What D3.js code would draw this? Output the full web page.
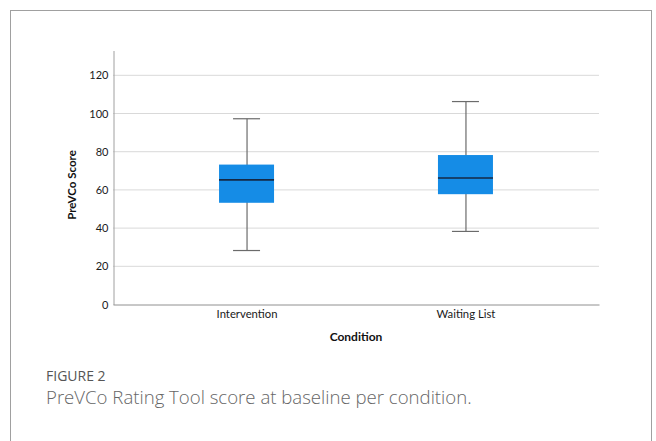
<!DOCTYPE html>
<html>
<head>
<meta charset="utf-8">
<script src="https://cdn.jsdelivr.net/npm/d3@7"></script>
<style>
  body { margin: 0; background: #fff; }
  svg { display: block; }
</style>
</head>
<body>
<svg id="chart" width="656" height="441"></svg>
<script>
// data
const conditions = ['Intervention', 'Waiting List'];
const whiskerLow = [28, 38];
const q1 = [53, 57.5];
const median = [65, 66];
const q3 = [73, 78];
const whiskerHigh = [97, 106];
const yTicks = [0, 20, 40, 60, 80, 100, 120];

const svg = d3.select('#chart');
const font = 'Lato, "Open Sans", sans-serif';
const capFont = '"Open Sans", Lato, sans-serif';

// outer frame of the figure panel
svg.append('rect')
  .attr('x', 10.5).attr('y', 10.5)
  .attr('width', 641).attr('height', 500)
  .attr('fill', 'none')
  .attr('stroke', '#a0a0a0');

const plot = {left: 113, right: 599, top: 50, bottom: 304};

const xScale = d3.scalePoint()
  .domain(conditions)
  .range([plot.left, plot.right])
  .padding(0.61);

const yScale = d3.scaleLinear()
  .domain([0, 133])
  .range([plot.bottom, plot.top]);

const g = svg.append('g');

// gridlines
g.selectAll('.grid').data(yTicks.slice(1)).join('line')
  .attr('class', 'grid')
  .attr('x1', plot.left).attr('x2', plot.right)
  .attr('y1', d => yScale(d) + 0.5).attr('y2', d => yScale(d) + 0.5)
  .attr('stroke', '#d9d9d9');

// y axis
const yAxis = d3.axisLeft(yScale).tickValues(yTicks).tickSize(0).tickPadding(5);
const yAxisG = g.append('g')
  .attr('transform', `translate(${plot.left + 0.5},0.5)`)
  .call(yAxis);
yAxisG.select('.domain').attr('stroke', '#a0a0a0');
yAxisG.selectAll('text')
  .attr('font-family', font).attr('font-size', 11).attr('fill', '#1a1a1a');

// x axis
const xAxis = d3.axisBottom(xScale).tickSize(0).tickPadding(5);
const xAxisG = g.append('g')
  .attr('transform', `translate(0,${plot.bottom + 0.5})`)
  .call(xAxis);
xAxisG.select('.domain').attr('stroke', '#909090');
xAxisG.selectAll('text')
  .attr('font-family', font).attr('font-size', 11.3).attr('fill', '#1a1a1a');

// boxes
const boxW = 55, capW = 27;
const data = conditions.map((c, i) => ({
  c, lo: whiskerLow[i], q1: q1[i], med: median[i], q3: q3[i], hi: whiskerHigh[i]
}));

const box = g.selectAll('.box').data(data).join('g').attr('class', 'box');

box.append('line')
  .attr('x1', d => xScale(d.c) + 0.5).attr('x2', d => xScale(d.c) + 0.5)
  .attr('y1', d => yScale(d.hi)).attr('y2', d => yScale(d.lo))
  .attr('stroke', '#6b6b6b').attr('stroke-width', 1.2);

box.selectAll('.cap').data(d => [d.lo, d.hi].map(v => ({c: d.c, v}))).join('line')
  .attr('class', 'cap')
  .attr('x1', d => xScale(d.c) - capW / 2).attr('x2', d => xScale(d.c) + capW / 2)
  .attr('y1', d => yScale(d.v)).attr('y2', d => yScale(d.v))
  .attr('stroke', '#6b6b6b').attr('stroke-width', 1.2);

box.append('rect')
  .attr('x', d => xScale(d.c) - boxW / 2)
  .attr('y', d => yScale(d.q3))
  .attr('width', boxW)
  .attr('height', d => yScale(d.q1) - yScale(d.q3))
  .attr('fill', '#158ce6');

box.append('line')
  .attr('x1', d => xScale(d.c) - boxW / 2).attr('x2', d => xScale(d.c) + boxW / 2)
  .attr('y1', d => yScale(d.med)).attr('y2', d => yScale(d.med))
  .attr('stroke', '#142844').attr('stroke-width', 1.6);

// axis titles
svg.append('text')
  .attr('transform', `translate(76,${(plot.top + plot.bottom) / 2 + 8}) rotate(-90)`)
  .attr('text-anchor', 'middle')
  .attr('font-family', font).attr('font-size', 11.5).attr('font-weight', 'bold')
  .attr('fill', '#111')
  .text('PreVCo Score');

svg.append('text')
  .attr('x', 356).attr('y', 341)
  .attr('text-anchor', 'middle')
  .attr('font-family', font).attr('font-size', 12).attr('font-weight', 'bold')
  .attr('fill', '#111')
  .text('Condition');

// caption
svg.append('text')
  .attr('x', 46).attr('y', 381)
  .attr('font-family', capFont).attr('font-size', 14)
  .attr('fill', '#555')
  .text('FIGURE 2');

svg.append('text')
  .attr('x', 46).attr('y', 404)
  .attr('font-family', capFont).attr('font-size', 18.6).attr('font-weight', 300)
  .attr('fill', '#666')
  .text('PreVCo Rating Tool score at baseline per condition.');
</script>
</body>
</html>
